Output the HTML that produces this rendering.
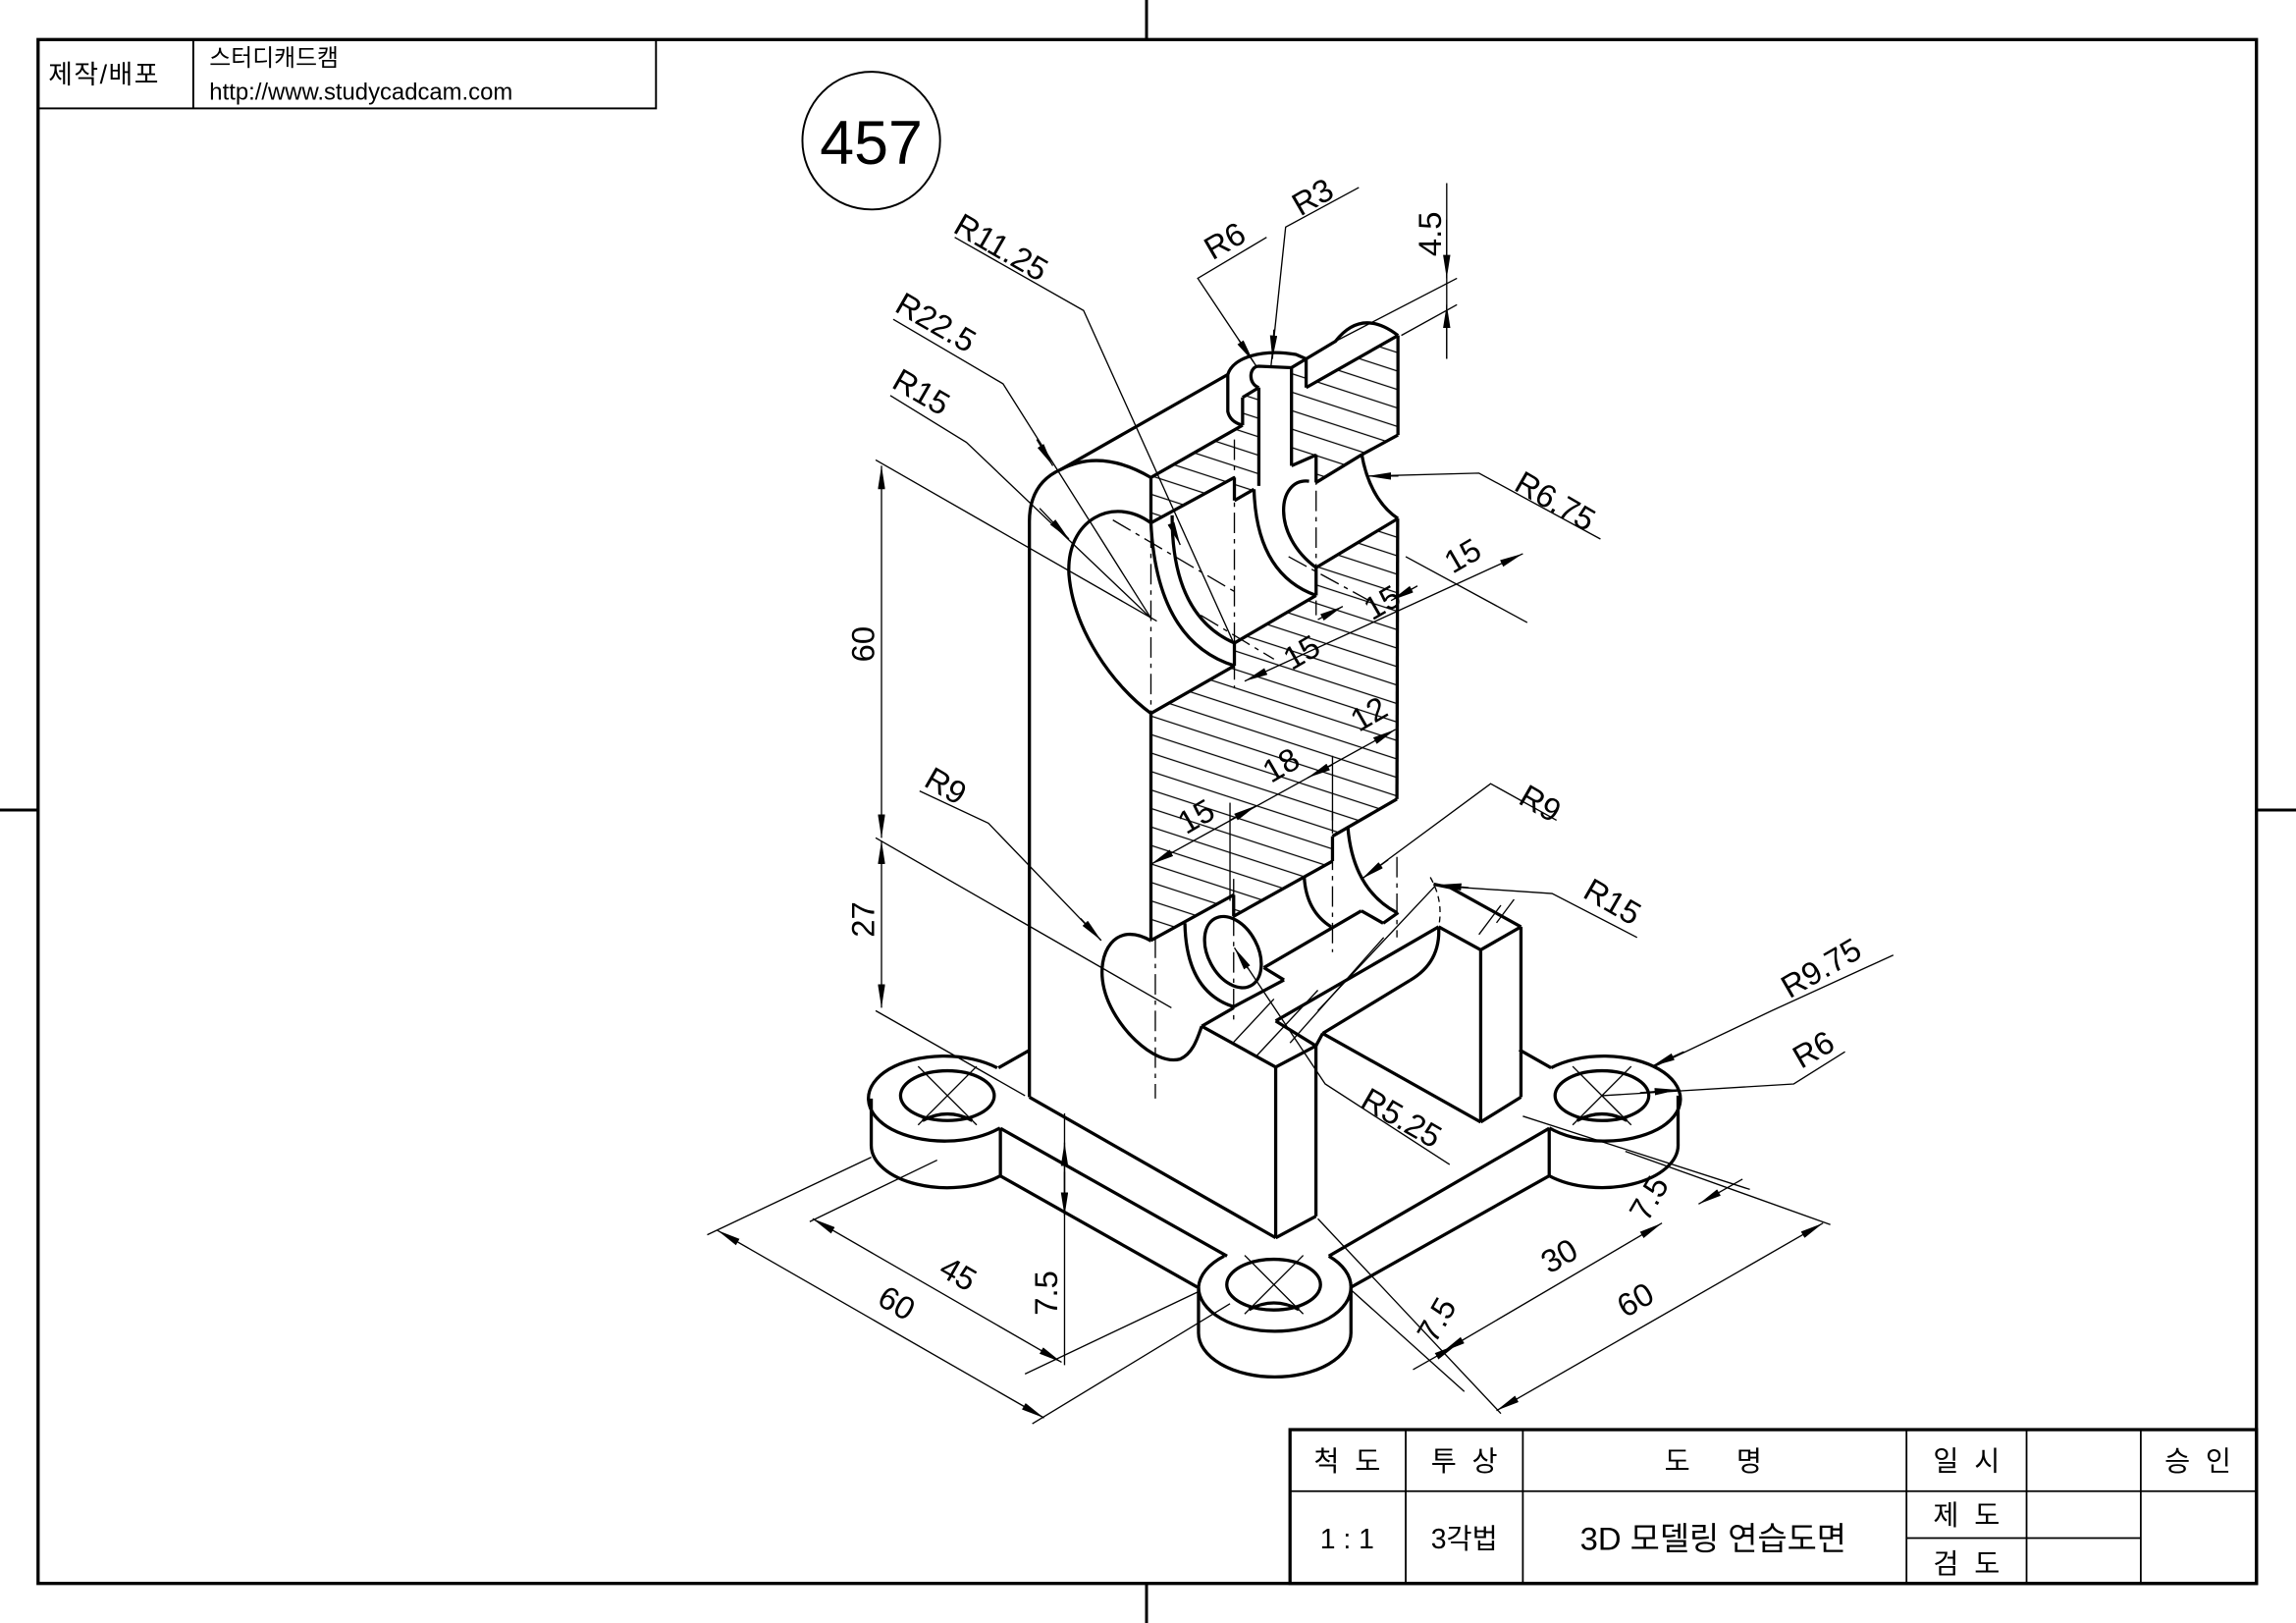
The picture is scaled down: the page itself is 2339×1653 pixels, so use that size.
<!DOCTYPE html>
<html><head><meta charset="utf-8"><style>
html,body{margin:0;padding:0;background:#fff;}
svg{display:block;}
text{font-family:"Liberation Sans Narrow","Liberation Sans","Noto Sans CJK KR",sans-serif;fill:#000;}
.k{font-family:"Liberation Sans","Noto Sans CJK KR",sans-serif;}
</style></head><body>
<svg width="2339" height="1653" viewBox="0 0 1568 1108" preserveAspectRatio="none" xmlns="http://www.w3.org/2000/svg">
<defs>
<pattern id="h" patternUnits="userSpaceOnUse" width="40" height="12" patternTransform="rotate(18)">
<line x1="0" y1="6" x2="40" y2="6" stroke="#000" stroke-width="0.9"/>
</pattern>
<marker id="a" viewBox="0 0 10 10" refX="10" refY="5" markerWidth="16" markerHeight="5" markerUnits="userSpaceOnUse" orient="auto-start-reverse" preserveAspectRatio="none">
<path d="M0,0 L10,5 L0,10 z" fill="#000"/>
</marker>
</defs>
<rect width="1568" height="1108" fill="#fff"/>
<rect x="26" y="27" width="1515" height="1054" fill="none" stroke="#000" stroke-width="2.2"/>
<g stroke="#000" stroke-width="2">
<line x1="783" y1="0" x2="783" y2="27"/><line x1="783" y1="1081" x2="783" y2="1108"/>
<line x1="0" y1="553" x2="26" y2="553"/><line x1="1541" y1="553" x2="1568" y2="553"/>
</g>
<g stroke="#000" stroke-width="1.3" fill="none">
<rect x="26" y="27" width="422" height="47"/>
<line x1="132" y1="27" x2="132" y2="74"/>
</g>
<text class="k" x="33" y="57" font-size="18" letter-spacing="1">제작/배포</text>
<text class="k" x="143" y="45" font-size="16">스터디캐드캠</text>
<text class="k" x="143" y="68" font-size="16">http://www.studycadcam.com</text>
<circle cx="595" cy="96" r="47" fill="none" stroke="#000" stroke-width="1.3"/>
<text class="k" x="595" y="112" font-size="42" text-anchor="middle">457</text>

<g stroke="#000" fill="none">
<rect x="881" y="976" width="660" height="105" stroke-width="2.2"/>
<line x1="881" y1="1018" x2="1541" y2="1018" stroke-width="1.2"/>
<line x1="1302" y1="1050" x2="1462" y2="1050" stroke-width="1.2"/>
<line x1="960" y1="976" x2="960" y2="1081" stroke-width="1.2"/>
<line x1="1040" y1="976" x2="1040" y2="1081" stroke-width="1.2"/>
<line x1="1302" y1="976" x2="1302" y2="1081" stroke-width="1.2"/>
<line x1="1384" y1="976" x2="1384" y2="1081" stroke-width="1.2"/>
<line x1="1462" y1="976" x2="1462" y2="1081" stroke-width="1.2"/>
</g>
<g class="k" font-size="19" text-anchor="middle">
<text class="k" x="920" y="1004">척 &#160;도</text>
<text class="k" x="1000" y="1004">투 &#160;상</text>
<text class="k" x="1170" y="1004">도 &#160; &#160; &#160;명</text>
<text class="k" x="1343" y="1004">일 &#160;시</text>
<text class="k" x="1501" y="1004">승 &#160;인</text>
<text class="k" x="920" y="1057">1 : 1</text>
<text class="k" x="1000" y="1057">3각법</text>
<text class="k" x="1170" y="1058" font-size="22">3D 모델링 연습도면</text>
<text class="k" x="1343" y="1041">제 &#160;도</text>
<text class="k" x="1343" y="1074">검 &#160;도</text>
</g>

<g fill="url(#h)" stroke="none">
<polygon points="786,326 848.6,290.3 848.6,271.3 859.7,264.6 859.7,331.7 856.4,334 843,341.7 843,326 786,357"/>
<polygon points="882,251 892,245 892,264.6 954.7,229 954.7,297 930,310.4 898.8,329.4 898.8,310.6 882,318"/>
<polygon points="954,354 898.8,387.5 898.8,406.5 843,439 843,454.5 786,487 786,642 842.5,610.9 842.5,625.5 910,587.9 910,570.9 954,545.5"/>
</g>

<g stroke="#000" stroke-width="2.2" fill="none" stroke-linejoin="round">
<path d="M703,749 L703,356 Q703,330 724.5,320.5 L838.5,255.7"/>
<path d="M724.5,320.5 Q752,306 786,326"/>
<path d="M786,357 C760,338 728,355 730,392 C733,430 760,468 786,487"/>
<line x1="786" y1="326" x2="786" y2="357"/>
<line x1="786" y1="487" x2="786" y2="642"/>
<line x1="786" y1="326" x2="848.6" y2="290.3"/>
<path d="M838.5,255.7 L838.5,281 Q840,288 848.6,290.3"/>
<line x1="848.6" y1="271.3" x2="848.6" y2="290.3"/>
<line x1="848.6" y1="271.3" x2="859.7" y2="264.6"/>
<path d="M838.5,255.7 C842,244 862,238 885,242 L892,245"/>
<path d="M859.7,264.6 C852,262 853,250 859.7,250 L882,251 L892,245"/>
<line x1="892" y1="245" x2="892" y2="264.6"/>
<line x1="859.7" y1="264.6" x2="859.7" y2="331.7"/>
<line x1="882" y1="251" x2="882" y2="318"/>
<path d="M892,245 L912,233 Q930,210 954.7,229"/>
<line x1="892" y1="264.6" x2="954.7" y2="229"/>
<line x1="954.7" y1="229" x2="954.7" y2="297"/>
<line x1="954.7" y1="297" x2="930" y2="310.4"/>
<path d="M930,310.4 C934,333 944,347 954.7,354"/>
<line x1="882" y1="318" x2="898.8" y2="310.6"/>
<line x1="898.8" y1="310.6" x2="898.8" y2="329.4"/>
<line x1="898.8" y1="329.4" x2="930" y2="310.4"/>
<line x1="954.7" y1="354" x2="898.8" y2="387.5"/>
<line x1="898.8" y1="387.5" x2="898.8" y2="406.5"/>
<line x1="898.8" y1="406.5" x2="843" y2="439"/>
<line x1="843" y1="439" x2="843" y2="454.5"/>
<line x1="843" y1="454.5" x2="786" y2="487"/>
<line x1="954.5" y1="354" x2="954" y2="545.5"/>
<line x1="786" y1="357" x2="843" y2="326"/>
<line x1="843" y1="326" x2="843" y2="341.7"/>
<line x1="843" y1="341.7" x2="856.4" y2="334"/>
<path d="M786,357 Q790,438 843,454.5"/>
<path d="M800.5,351.8 Q800,420 843,439"/>
<path d="M856.4,334 Q858,392 898.8,406.5"/>
<path d="M894,328.5 C872,326 868,365 898.8,387.5"/>
<line x1="954" y1="545.5" x2="910" y2="570.9"/>
<line x1="910" y1="570.9" x2="910" y2="587.9"/>
<line x1="910" y1="587.9" x2="842.5" y2="625.5"/>
<line x1="842.5" y1="610.9" x2="842.5" y2="625.5"/>
<line x1="842.5" y1="610.9" x2="786" y2="642"/>
<path d="M786.2,642.4 C762,628 748,650 754,675 C760,700 788,728 806,723 C815,719 818,708 820.7,700.6"/>
<line x1="820.7" y1="700.6" x2="842.5" y2="688"/>
<path d="M809.2,630.3 Q810,677 842.5,687.3"/>
<ellipse cx="842" cy="650" rx="17" ry="26" transform="rotate(-28 842 650)"/>
<line x1="842.5" y1="687.3" x2="876.9" y2="669"/>
<line x1="876.9" y1="669" x2="863.1" y2="660.6"/>
<line x1="863.1" y1="660.6" x2="929.7" y2="621.8"/>
<line x1="929.7" y1="621.8" x2="944.6" y2="630.3"/>
<line x1="944.6" y1="630.3" x2="954.9" y2="623"/>
<path d="M920.5,565 Q924,607 953.8,623"/>
<path d="M890.7,598.8 Q892,622 909,632.7"/>
<line x1="820.7" y1="700.6" x2="871.2" y2="728.5"/>
<line x1="871.2" y1="728.5" x2="898.7" y2="714"/>
<line x1="898.7" y1="714" x2="871.2" y2="697"/>
<line x1="871.2" y1="728.5" x2="871.2" y2="845"/>
<line x1="898.7" y1="714" x2="898.7" y2="830.3"/>
<line x1="871.2" y1="845" x2="898.7" y2="830.3"/>
<line x1="703" y1="749" x2="871.2" y2="845"/>
<line x1="871.2" y1="697" x2="982.5" y2="632.7"/>
<line x1="898.7" y1="714" x2="903.3" y2="705.5"/>
<line x1="903.3" y1="705.5" x2="962.9" y2="669.3"/>
<path d="M962.9,669.3 Q984,657 982.5,632.7"/>
<line x1="982.5" y1="632.7" x2="1011.2" y2="648.5"/>
<line x1="1011.2" y1="648.5" x2="1038.7" y2="632.7"/>
<line x1="1038.7" y1="632.7" x2="990.5" y2="606"/>
<line x1="990.5" y1="606" x2="979" y2="603.6"/>
<line x1="1011.2" y1="648.5" x2="1011.2" y2="766"/>
<line x1="1038.7" y1="632.7" x2="1038.7" y2="749"/>
<line x1="1011.2" y1="766" x2="1038.7" y2="749"/>
<line x1="903.3" y1="705.5" x2="1011.2" y2="766"/>
<line x1="683.2" y1="770.3" x2="683.2" y2="802.8"/>
<line x1="683.2" y1="770.3" x2="838" y2="857.5"/>
<line x1="683.2" y1="802.8" x2="817.7" y2="878.7"/>
<line x1="681.9" y1="729" x2="703" y2="717"/>
<line x1="907.5" y1="857.5" x2="1058" y2="770.3"/>
<line x1="922.6" y1="878.8" x2="1058" y2="802.7"/>
<line x1="1058" y1="770.3" x2="1058" y2="802.7"/>
<line x1="1037.6" y1="716.7" x2="1059.3" y2="729"/>
<path d="M681,729 A52,29 0 1 0 683,770"/>
<ellipse cx="647" cy="748" rx="32" ry="17"/>
<path d="M595,750 L595,781.5 A52,29 0 0 0 683,802.8"/>
<path d="M630,765 Q647,756 664,765"/>
<path d="M818.5,878.8 A52,30 0 0 1 836,857.5"/>
<path d="M907.5,857.5 A52,30 0 0 1 922.6,878.8"/>
<path d="M818.5,878.8 A52,30 0 0 0 922.6,878.8"/>
<ellipse cx="869.8" cy="877" rx="32" ry="17.3"/>
<path d="M818.5,878.8 L818.5,910 A52,30 0 0 0 922.6,910 L922.6,878.8"/>
<path d="M853,894 Q870,885 887,894"/>
<path d="M1059.3,729 A52,29 0 1 1 1058,770"/>
<ellipse cx="1094" cy="748" rx="32" ry="17"/>
<path d="M1146,748 L1146,781 A52,29 0 0 1 1058,802.7"/>
<path d="M1077,765 Q1094,756 1111,765"/>
</g>

<g stroke="#000" stroke-width="0.9">
<line x1="842" y1="712" x2="870" y2="682"/>
<line x1="858" y1="721" x2="900" y2="676"/>
<line x1="881" y1="712" x2="945" y2="640"/>
<line x1="900" y1="690" x2="980" y2="605"/>
<line x1="1010" y1="638" x2="1025" y2="618"/>
<line x1="1022" y1="630" x2="1034" y2="614"/>
</g>

<g stroke="#000" stroke-width="0.9" stroke-dasharray="14,4,3,4" fill="none">
<line x1="786" y1="360" x2="786" y2="490"/>
<line x1="843" y1="300" x2="843" y2="470"/>
<line x1="898.8" y1="310" x2="898.8" y2="420"/>
<line x1="789" y1="640" x2="789" y2="750"/>
<line x1="842.5" y1="600" x2="842.5" y2="700"/>
<line x1="910" y1="555" x2="910" y2="650"/>
<line x1="954" y1="585" x2="954" y2="640"/>
<line x1="760" y1="355" x2="845" y2="405"/>
<line x1="820" y1="420" x2="870" y2="450"/>
<line x1="880" y1="380" x2="935" y2="410"/>
<path d="M976.8,598.9 Q986,615 982.5,632.7" stroke-dasharray="4,3"/>
</g>
<g stroke="#000" stroke-width="0.9">
<line x1="627" y1="728" x2="667" y2="768"/><line x1="667" y1="728" x2="627" y2="768"/>
<line x1="850" y1="857" x2="890" y2="897"/><line x1="890" y1="857" x2="850" y2="897"/>
<line x1="1074" y1="728" x2="1114" y2="768"/><line x1="1114" y1="728" x2="1074" y2="768"/>
</g>

<g stroke="#000" stroke-width="0.9" fill="none">
<line x1="598" y1="314" x2="790" y2="424"/>
<line x1="598" y1="572" x2="800" y2="688"/>
<line x1="598" y1="690" x2="700" y2="748"/>
<line x1="602" y1="318" x2="602" y2="572" marker-start="url(#a)" marker-end="url(#a)"/>
<line x1="602" y1="574" x2="602" y2="688" marker-start="url(#a)" marker-end="url(#a)"/>
<line x1="727" y1="760" x2="727" y2="932"/>
<line x1="727" y1="815" x2="727" y2="780" marker-end="url(#a)"/>
<line x1="727" y1="800" x2="727" y2="830" marker-end="url(#a)"/>
<line x1="595" y1="790" x2="483" y2="843"/>
<line x1="640" y1="792" x2="553" y2="834"/>
<line x1="555" y1="832" x2="725" y2="930" marker-start="url(#a)" marker-end="url(#a)"/>
<line x1="490" y1="840" x2="713" y2="968" marker-start="url(#a)" marker-end="url(#a)"/>
<line x1="818" y1="882" x2="700" y2="938"/>
<line x1="840" y1="890" x2="705" y2="972"/>
<line x1="900" y1="832" x2="1025" y2="965"/>
<line x1="922" y1="880" x2="1000" y2="950"/>
<line x1="1040" y1="762" x2="1195" y2="812"/>
<line x1="1110" y1="786" x2="1250" y2="836"/>
<line x1="1022" y1="963" x2="1245" y2="835" marker-start="url(#a)" marker-end="url(#a)"/>
<line x1="985" y1="923" x2="1135" y2="835" marker-start="url(#a)" marker-end="url(#a)"/>
<line x1="965" y1="935" x2="995" y2="918" marker-end="url(#a)"/>
<line x1="1160" y1="822" x2="1190" y2="805" marker-start="url(#a)"/>
<line x1="988" y1="125" x2="988" y2="245"/>
<line x1="988" y1="150" x2="988" y2="190" marker-end="url(#a)"/>
<line x1="988" y1="245" x2="988" y2="208" marker-end="url(#a)"/>
<line x1="912" y1="233" x2="995" y2="190"/>
<line x1="957" y1="229" x2="995" y2="208"/>
<line x1="850" y1="465" x2="1040" y2="378" marker-start="url(#a)" marker-end="url(#a)"/>
<line x1="900" y1="423" x2="917" y2="414" marker-end="url(#a)"/>
<line x1="968" y1="400" x2="950" y2="410" marker-end="url(#a)"/>
<line x1="960" y1="380" x2="1043" y2="425"/>
<line x1="786" y1="590" x2="953" y2="498" marker-start="url(#a)" marker-end="url(#a)"/>
<line x1="840" y1="560" x2="858" y2="550" marker-end="url(#a)"/>
<line x1="910" y1="522" x2="893" y2="531" marker-end="url(#a)"/>
<line x1="840" y1="548" x2="840" y2="615"/>
<line x1="910" y1="516" x2="910" y2="560"/>
<polyline points="652,162 740,212 843,440"/>
<line x1="800" y1="358" x2="806" y2="372" marker-end="url(#a)"/>
<polyline points="610,218 685,262 786,422"/>
<line x1="708" y1="300" x2="719" y2="318" marker-end="url(#a)"/>
<polyline points="608,270 660,302 786,422"/>
<line x1="710" y1="347" x2="730" y2="368" marker-end="url(#a)"/>
<polyline points="865,162 818,190 858,250"/>
<line x1="846" y1="232" x2="856" y2="247" marker-end="url(#a)"/>
<polyline points="928,128 878,155 868,250"/>
<line x1="870" y1="225" x2="869" y2="245" marker-end="url(#a)"/>
<polyline points="1093,368 1010,323 935,325"/>
<line x1="955" y1="325" x2="934" y2="325" marker-end="url(#a)"/>
<polyline points="628,540 675,562 752,642"/>
<line x1="738" y1="627" x2="752" y2="642" marker-end="url(#a)"/>
<polyline points="1063,560 1018,535 930,600"/>
<line x1="948" y1="587" x2="930" y2="600" marker-end="url(#a)"/>
<polyline points="1118,640 1060,610 985,605"/>
<line x1="1003" y1="606" x2="982" y2="604" marker-end="url(#a)"/>
<polyline points="990,795 905,740 845,650"/>
<line x1="852" y1="661" x2="843" y2="647" marker-end="url(#a)"/>
<polyline points="1293,652 1210,690 1130,728"/>
<line x1="1150" y1="718" x2="1128" y2="728" marker-end="url(#a)"/>
<polyline points="1260,718 1225,740 1094,748"/>
<line x1="1120" y1="746" x2="1146" y2="744" marker-end="url(#a)"/>
</g>

<g font-size="22">
<text x="0" y="0" transform="translate(597,452) rotate(-90)">60</text>
<text x="0" y="0" transform="translate(597,640) rotate(-90)">27</text>
<text x="0" y="0" transform="translate(722,898) rotate(-90)">7.5</text>
<text x="0" y="0" transform="translate(640,870) rotate(30)">45</text>
<text x="0" y="0" transform="translate(598,890) rotate(30)">60</text>
<text x="0" y="0" transform="translate(1110,900) rotate(-30)">60</text>
<text x="0" y="0" transform="translate(1058,870) rotate(-30)">30</text>
<text x="0" y="0" transform="translate(980,918) rotate(-60)">7.5</text>
<text x="0" y="0" transform="translate(1125,835) rotate(-60)">7.5</text>
<text x="0" y="0" transform="translate(984,175) rotate(-90)">4.5</text>
<text x="0" y="0" transform="translate(882,458) rotate(-30)">15</text>
<text x="0" y="0" transform="translate(937,424) rotate(-30)">15</text>
<text x="0" y="0" transform="translate(992,392) rotate(-30)">15</text>
<text x="0" y="0" transform="translate(810,570) rotate(-30)">15</text>
<text x="0" y="0" transform="translate(868,535) rotate(-30)">18</text>
<text x="0" y="0" transform="translate(928,500) rotate(-30)">12</text>
<text x="0" y="0" transform="translate(650,158) rotate(30)">R11.25</text>
<text x="0" y="0" transform="translate(610,212) rotate(30)">R22.5</text>
<text x="0" y="0" transform="translate(608,264) rotate(30)">R15</text>
<text x="0" y="0" transform="translate(828,178) rotate(-30)">R6</text>
<text x="0" y="0" transform="translate(888,148) rotate(-30)">R3</text>
<text x="0" y="0" transform="translate(1033,334) rotate(30)">R6.75</text>
<text x="0" y="0" transform="translate(630,536) rotate(30)">R9</text>
<text x="0" y="0" transform="translate(1036,548) rotate(30)">R9</text>
<text x="0" y="0" transform="translate(1080,612) rotate(30)">R15</text>
<text x="0" y="0" transform="translate(928,755) rotate(30)">R5.25</text>
<text x="0" y="0" transform="translate(1222,682) rotate(-30)">R9.75</text>
<text x="0" y="0" transform="translate(1230,730) rotate(-30)">R6</text>
</g>
</svg>
</body></html>
